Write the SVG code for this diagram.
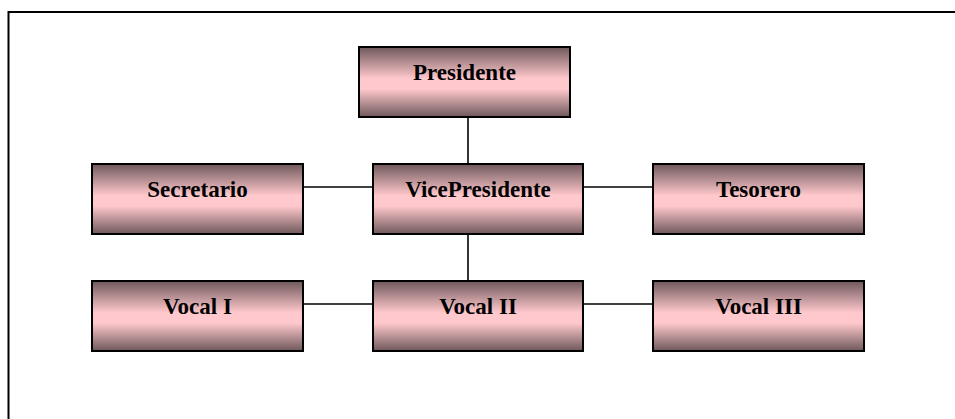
<svg xmlns="http://www.w3.org/2000/svg" width="955" height="419" viewBox="0 0 955 419">
<defs>
<linearGradient id="g" x1="0" y1="0" x2="0" y2="1">
<stop offset="0" stop-color="#6e585b"/>
<stop offset="0.45" stop-color="#ffc8cc"/>
<stop offset="0.6" stop-color="#ffc8cc"/>
<stop offset="1" stop-color="#6e585b"/>
</linearGradient>
</defs>
<style>
.box{fill:url(#g);stroke:#000;stroke-width:2}
.lbl{font-family:"Liberation Serif","Times New Roman",serif;font-weight:bold;font-size:23px;fill:#000;text-anchor:middle}
.con{stroke:#000;stroke-width:1.6;fill:none}
.frame{stroke:#000;stroke-width:2;fill:none}
</style>
<rect width="955" height="419" fill="#fff"/>
<path class="frame" d="M8.5,419 V12 H955"/>
<g id="connectors">
<line class="con" x1="468" y1="117" x2="468" y2="164"/>
<line class="con" x1="468" y1="234" x2="468" y2="281"/>
<line class="con" x1="303" y1="187" x2="373" y2="187"/>
<line class="con" x1="583" y1="187" x2="653" y2="187"/>
<line class="con" x1="303" y1="304" x2="373" y2="304"/>
<line class="con" x1="583" y1="304" x2="653" y2="304"/>
</g>
<g id="presidente"><rect class="box" x="359" y="47" width="211" height="70"/><text class="lbl" x="464.5" y="80">Presidente</text></g>
<g id="secretario"><rect class="box" x="92" y="164" width="211" height="70"/><text class="lbl" x="197.5" y="197">Secretario</text></g>
<g id="vicepresidente"><rect class="box" x="373" y="164" width="210" height="70"/><text class="lbl" x="478" y="197">VicePresidente</text></g>
<g id="tesorero"><rect class="box" x="653" y="164" width="211" height="70"/><text class="lbl" x="758.5" y="197">Tesorero</text></g>
<g id="vocal1"><rect class="box" x="92" y="281" width="211" height="70"/><text class="lbl" x="197.5" y="314">Vocal I</text></g>
<g id="vocal2"><rect class="box" x="373" y="281" width="210" height="70"/><text class="lbl" x="478" y="314">Vocal II</text></g>
<g id="vocal3"><rect class="box" x="653" y="281" width="211" height="70"/><text class="lbl" x="758.5" y="314">Vocal III</text></g>
</svg>
